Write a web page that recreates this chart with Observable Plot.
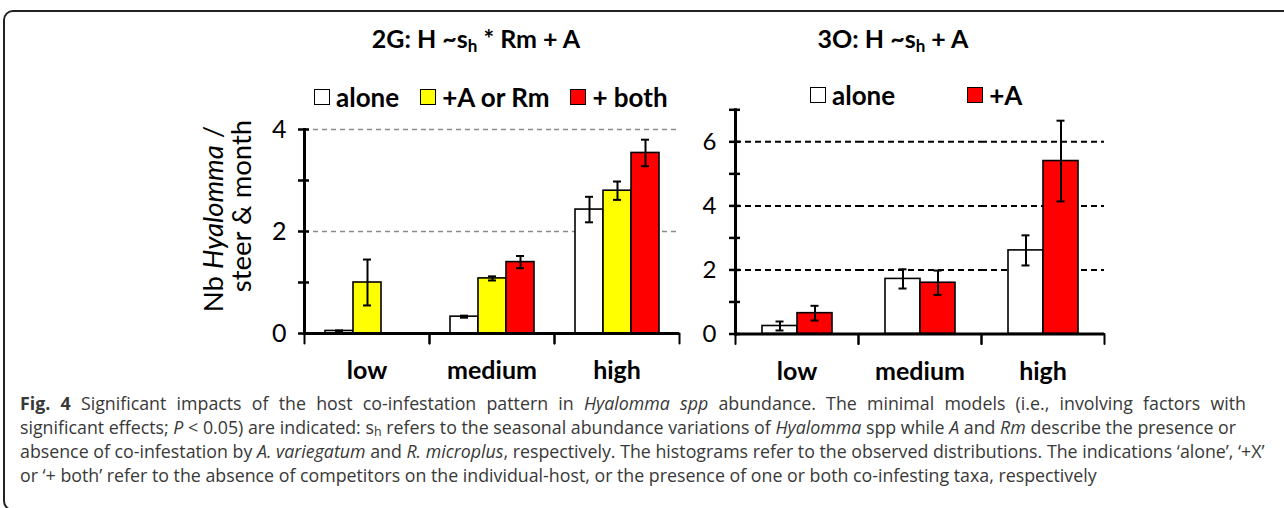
<!DOCTYPE html>
<html>
<head>
<meta charset="utf-8">
<script src="https://cdn.jsdelivr.net/npm/d3@7"></script>
<script src="https://cdn.jsdelivr.net/npm/@observablehq/plot@0.6"></script>
<style>
  html, body { margin: 0; padding: 0; background: #fff; }
  body { width: 1284px; height: 508px; overflow: hidden; position: relative; font-family: Lato, sans-serif; color: #000; }
  .box { position: absolute; left: 3px; top: 10px; width: 1310px; height: 497px; border: 2px solid #222; border-radius: 10px; }
  .abs { position: absolute; white-space: nowrap; }
  .title { font-weight: bold; font-size: 25px; line-height: 1; transform: translateX(-50%); }
  .title sub { font-size: 0.68em; vertical-align: -0.25em; line-height: 0; }
  .legend { font-weight: bold; font-size: 26px; line-height: 1; display: flex; align-items: center; }
  .sw { display: inline-block; width: 14px; height: 14px; border: 1.5px solid #000; margin-right: 6px; }
  .ylab { font-size: 27.5px; line-height: 1; transform: translate(-50%, -50%) rotate(-90deg); }
  .cap { position: absolute; left: 20px; font-family: "Open Sans", sans-serif; font-size: 17.8px; color: #383838; white-space: nowrap; line-height: 1; }
  .cap.j { text-align: justify; text-align-last: justify; white-space: normal; }
  .cap sub { font-size: 0.7em; vertical-align: -0.2em; line-height: 0; }
  svg { overflow: visible; }
</style>
</head>
<body>
<div class="box"></div>
<div id="left" class="abs" style="left:230px; top:90px;"></div>
<div id="right" class="abs" style="left:680px; top:90px;"></div>
<div class="abs title" style="left:476px; top:26px;">2G: H ~s<sub>h</sub> * Rm + A</div>
<div class="abs title" style="left:893px; top:26px;">3O: H ~s<sub>h</sub> + A</div>
<div class="abs legend" id="legL" style="left:314px; top:84px;"></div>
<div class="abs legend" id="legR" style="left:810px; top:82px;"></div>
<div class="abs ylab" style="left:213px; top:219px;">Nb <i>Hyalomma</i> /</div>
<div class="abs ylab" style="left:241px; top:206px;">steer &amp; month</div>
<div class="cap j" style="top:395px; width:1226px;"><b>Fig. 4</b> Significant impacts of the host co-infestation pattern in <i>Hyalomma spp</i> abundance. The minimal models (i.e., involving factors with</div>
<div class="cap j" style="top:419px; width:1216px;">significant effects; <i>P</i> &lt; 0.05) are indicated: s<sub>h</sub> refers to the seasonal abundance variations of <i>Hyalomma</i> spp while <i>A</i> and <i>Rm</i> describe the presence or</div>
<div class="cap" style="top:443px;">absence of co-infestation by <i>A. variegatum</i> and <i>R. microplus</i>, respectively. The histograms refer to the observed distributions. The indications ‘alone’, ‘+X’</div>
<div class="cap" style="top:467px;">or ‘+ both’ refer to the absence of competitors on the individual-host, or the presence of one or both co-infesting taxa, respectively</div>
<script>
// ---- data ----
const categories = ["low", "medium", "high"];

const seriesG = ["alone", "+A or Rm", "+ both"];
const colorsG = ["#ffffff", "#ffff00", "#ff0000"];
const aloneG = [0.05, 0.33, 2.43];
const aloneGErr = [0.01, 0.02, 0.25];
const armG = [1.00, 1.08, 2.80];
const armGErr = [0.45, 0.04, 0.18];
const bothG = [null, 1.40, 3.54];
const bothGErr = [null, 0.12, 0.26];
const yTicksG = [0, 1, 2, 3, 4];
const yLabelsG = [0, 2, 4];
const gridG = [2, 4];

const seriesO = ["alone", "+A"];
const colorsO = ["#ffffff", "#ff0000"];
const aloneO = [0.25, 1.72, 2.61];
const aloneOErr = [0.14, 0.30, 0.47];
const aO = [0.65, 1.60, 5.40];
const aOErr = [0.23, 0.38, 1.26];
const yTicksO = [0, 1, 2, 3, 4, 5, 6, 7];
const yLabelsO = [0, 2, 4, 6];
const gridO = [2, 4, 6];

function rowsOf(series, values, errors) {
  const rows = [];
  series.forEach((s, j) => {
    categories.forEach((c, i) => {
      const v = values[j][i];
      if (v == null) return;
      rows.push({cat: c, series: s, value: v, lo: v - errors[j][i], hi: v + errors[j][i]});
    });
  });
  return rows;
}

const rowsG = rowsOf(seriesG, [aloneG, armG, bothG], [aloneGErr, armGErr, bothGErr]);
const rowsO = rowsOf(seriesO, [aloneO, aO], [aloneOErr, aOErr]);

const tickShape = {draw(context, l) { context.moveTo(0, 0); context.lineTo(0, -l); }};

function chart(o) {
  return Plot.plot({
    width: o.width, height: o.height,
    marginLeft: o.ml, marginRight: o.mr, marginTop: o.mt, marginBottom: o.mb,
    style: {fontFamily: "Lato, sans-serif", background: "transparent", color: "#000", overflow: "visible"},
    fx: {domain: categories, padding: 0, label: null},
    x: {domain: o.series, paddingInner: 0, paddingOuter: o.po, axis: null},
    y: {domain: [0, o.yMax], label: null},
    color: {domain: o.series, range: o.colors},
    marks: [
      Plot.ruleY(o.grid, {stroke: o.gridStroke, strokeDasharray: o.gridDash, strokeWidth: o.gridWidth}),
      Plot.barY(o.rows, {fx: "cat", x: "series", y: "value", fill: "series", stroke: "#000", strokeWidth: 1.6}),
      Plot.ruleX(o.rows, {fx: "cat", x: "series", y1: "lo", y2: "hi", stroke: "#000", strokeWidth: 2}),
      Plot.tickY(o.rows, {fx: "cat", x: "series", y: "hi", stroke: "#000", strokeWidth: 2, insetLeft: o.cap, insetRight: o.cap}),
      Plot.tickY(o.rows, {fx: "cat", x: "series", y: "lo", stroke: "#000", strokeWidth: 2, insetLeft: o.cap, insetRight: o.cap}),
      Plot.ruleY([0], {stroke: "#000", strokeWidth: 3}),
      Plot.frame({anchor: "left", facet: "super", stroke: "#000", strokeWidth: 3}),
      Plot.axisY({ticks: o.yTicks, tickSize: 11, dx: 5, fill: "none", label: null, stroke: "#000", strokeWidth: 2.5}),
      Plot.axisY({ticks: o.yLabels, tickSize: 0, tickPadding: o.yPad, fontSize: o.yFont, label: null, tickFormat: d => String(d)}),
      Plot.axisFx({anchor: "bottom", tickSize: 0, tickPadding: o.xPad, fontSize: o.xFont, fontWeight: "bold", label: null}),
      Plot.vector([0], {frameAnchor: "bottom-left", anchor: "start", rotate: 180, length: 10, shape: tickShape, stroke: "#000", strokeWidth: 2}),
      Plot.vector([0], {frameAnchor: "bottom-right", anchor: "start", rotate: 180, length: 10, shape: tickShape, stroke: "#000", strokeWidth: 2})
    ]
  });
}

document.getElementById("left").append(chart({
  rows: rowsG, series: seriesG, colors: colorsG, yMax: 4, yTicks: yTicksG, yLabels: yLabelsG, grid: gridG,
  gridStroke: "#8a8a8a", gridDash: "5,4", gridWidth: 1.5,
  width: 460, height: 300, ml: 73, mr: 11, mt: 39, mb: 57, po: 0.71, cap: 10,
  yPad: 18, yFont: 25, xPad: 28, xFont: 25
}));

document.getElementById("right").append(chart({
  rows: rowsO, series: seriesO, colors: colorsO, yMax: 7, yTicks: yTicksO, yLabels: yLabelsO, grid: gridO,
  gridStroke: "#000", gridDash: "6,4", gridWidth: 2,
  width: 440, height: 300, ml: 55, mr: 16, mt: 19.3, mb: 56.5, po: 0.73, cap: 13.5,
  yPad: 19, yFont: 24, xPad: 28, xFont: 25
}));

function legend(el, series, colors, gaps) {
  series.forEach((s, i) => {
    const item = document.createElement("span");
    item.style.display = "inline-flex";
    item.style.alignItems = "center";
    if (i > 0) item.style.marginLeft = gaps + "px";
    const sw = document.createElement("span");
    sw.className = "sw";
    sw.style.background = colors[i];
    item.append(sw, document.createTextNode(s));
    el.append(item);
  });
}
legend(document.getElementById("legL"), seriesG, colorsG, 21);
legend(document.getElementById("legR"), seriesO, colorsO, 72);
</script>
</body>
</html>
